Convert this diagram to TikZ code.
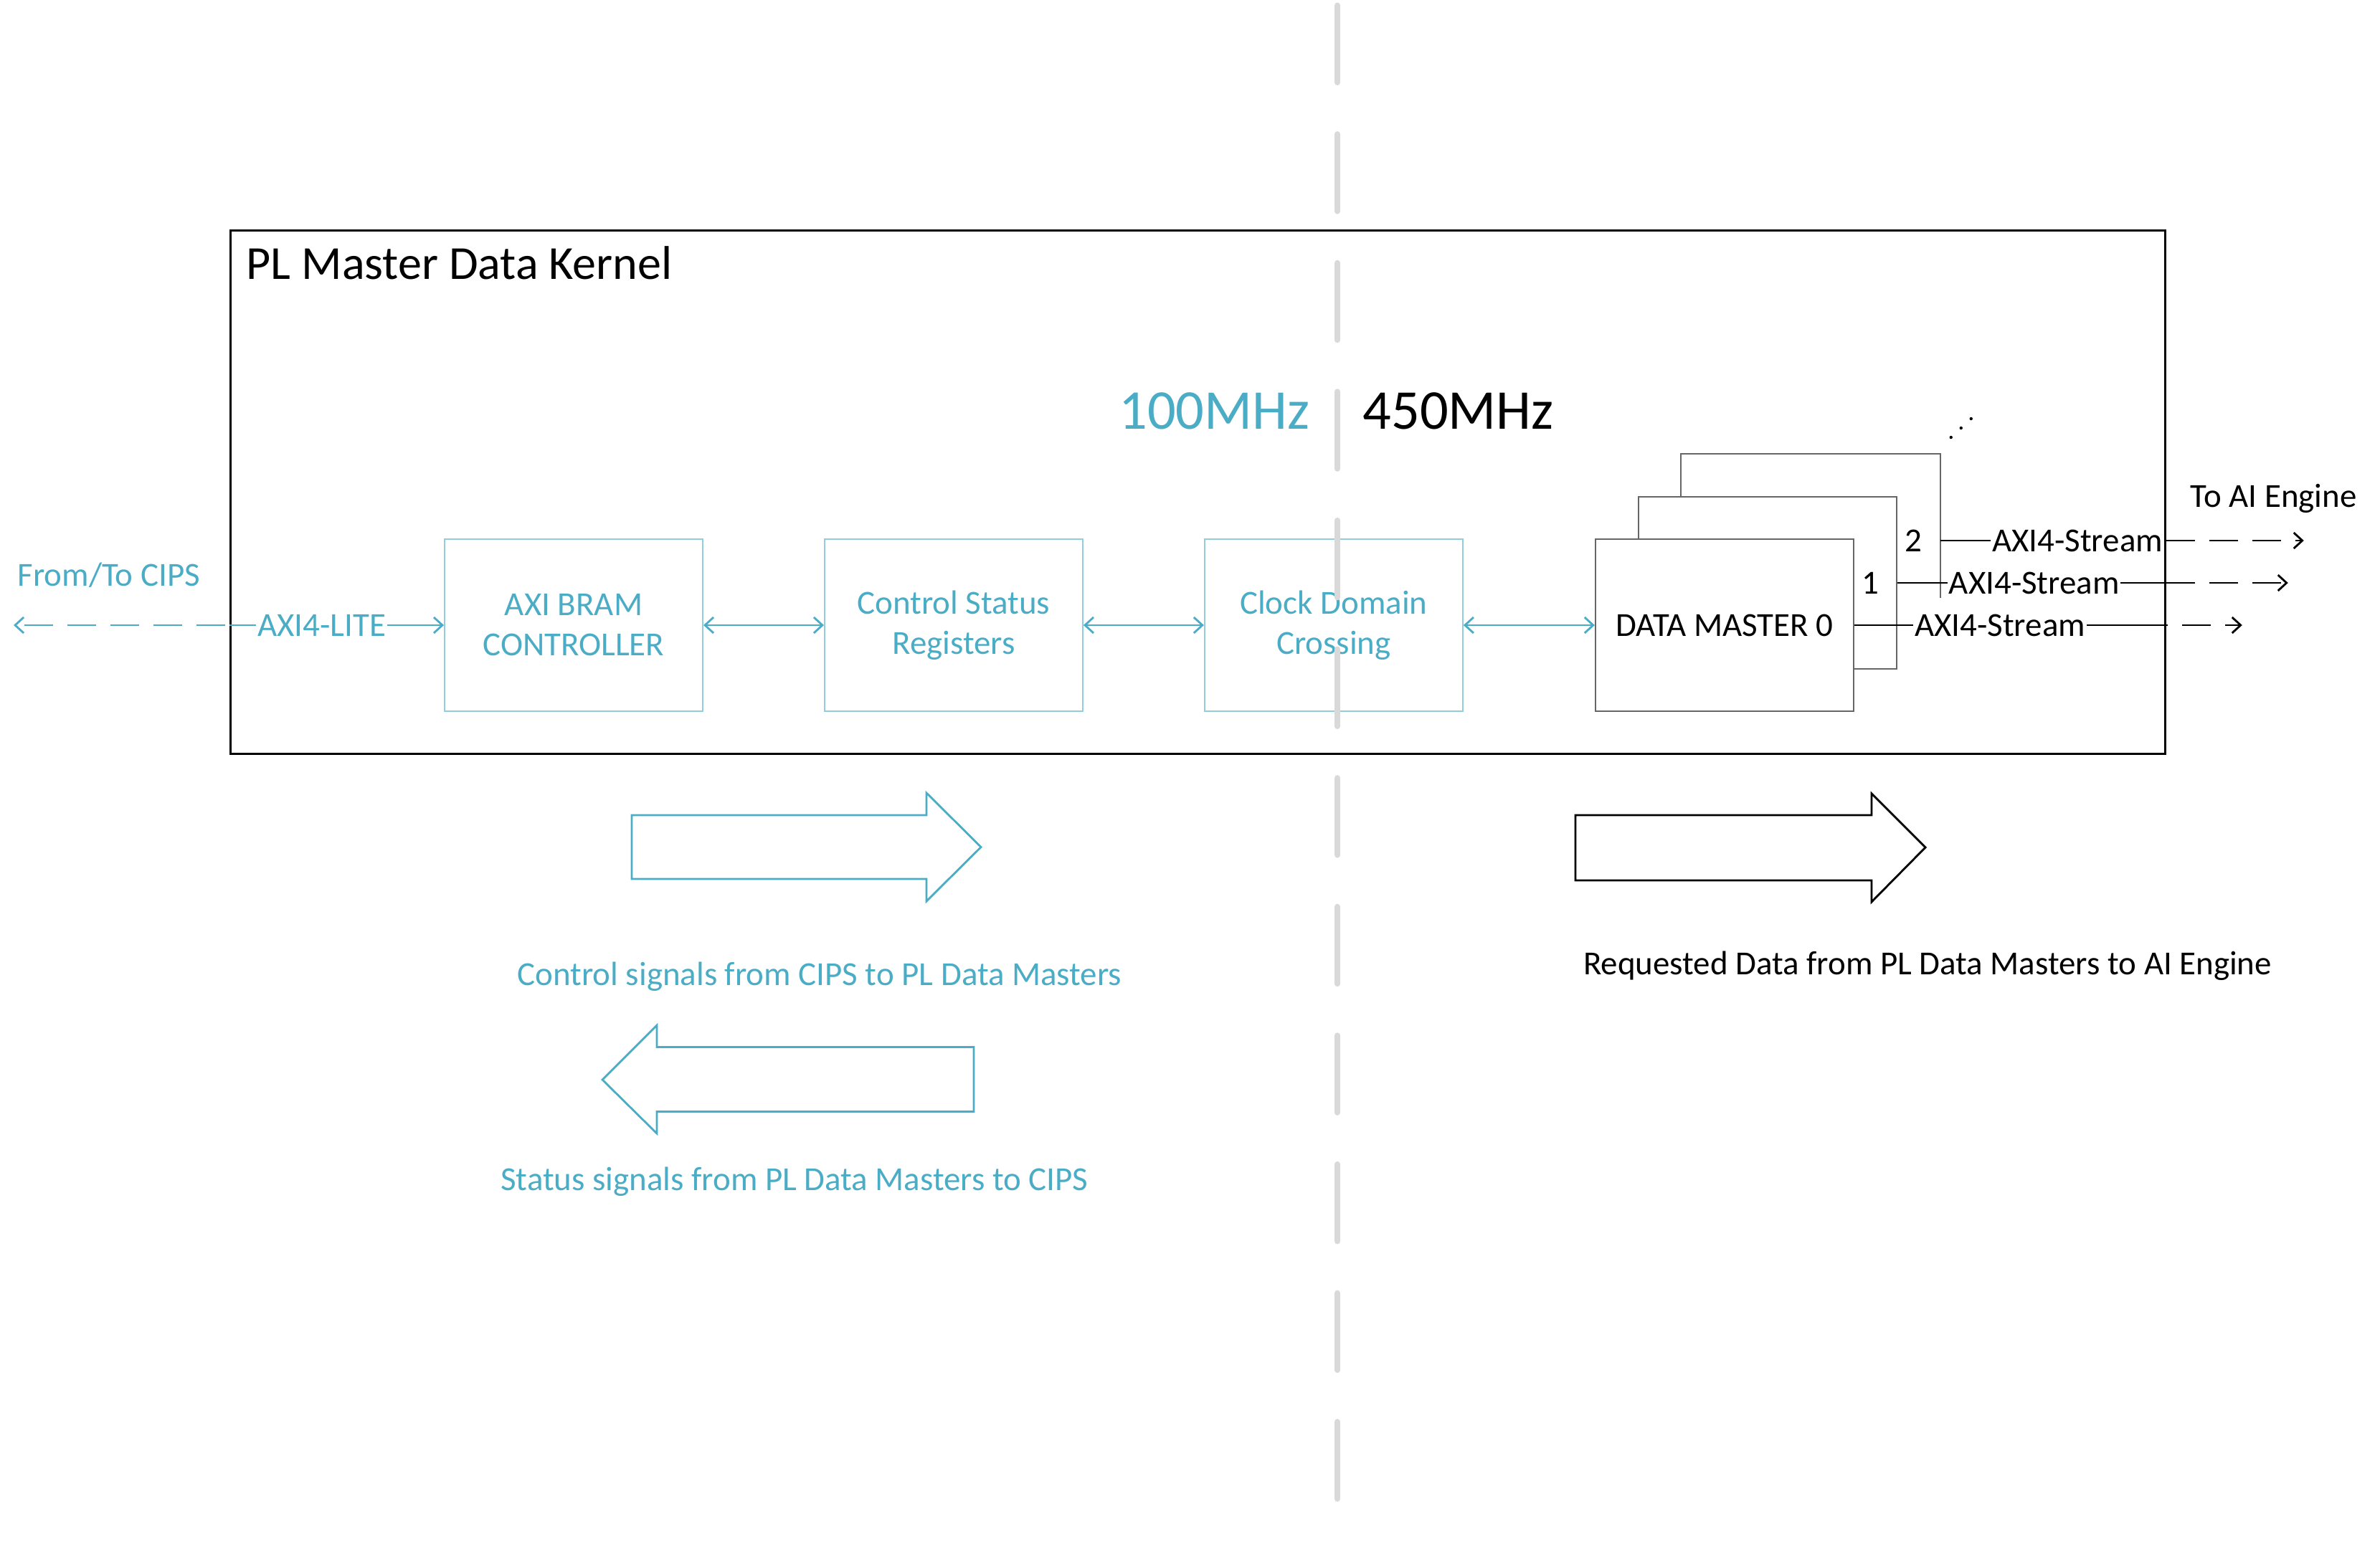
\documentclass[tikz,border=0pt]{standalone}
\usepackage{fontspec}
\setmainfont{Carlito}
\usetikzlibrary{arrows.meta,positioning}
\definecolor{cipsblue}{HTML}{4BACC6}
\definecolor{boxblue}{HTML}{92CDDC}
\definecolor{clkgray}{HTML}{D9D9D9}
\newcommand{\lblfont}{\fontsize{13.35}{15.9}\selectfont}

\tikzset{
  blkbox/.style={draw=boxblue,line width=.55pt,minimum width=3.6cm,minimum height=2.4cm,
    text=cipsblue,align=center,font=\lblfont},
  dmbox/.style={draw=black!60,fill=white,line width=.55pt,minimum width=3.6cm,minimum height=2.4cm,
    align=center,font=\lblfont},
  cipsline/.style={draw=cipsblue,line width=.8pt},
  dmstream/.style={draw=black,line width=.8pt},
  onlabel/.style={fill=white,inner sep=.5pt,font=\lblfont},
  bigarrow/.style={line width=.8pt,line join=miter},
}

\begin{document}
\begin{tikzpicture}[>={Straight Barb[length=0.12cm,width=0.22cm]}]
\useasboundingbox (0,0) rectangle (33.19,-21.62);

\node[draw,line width=.85pt,minimum width=26.98cm,minimum height=7.30cm,anchor=north west] (kernel) at (3.20,-3.20) {};
\node[anchor=base west,inner sep=0,font=\fontsize{18.8}{22}\selectfont] (title) at ([shift={(0.23,-0.69)}]kernel.north west) {PL Master Data Kernel};

\node[anchor=base east,inner sep=0,text=cipsblue,font=\fontsize{22.3}{26}\selectfont] (slow) at (18.27,-5.98) {100MHz};
\node[anchor=base west,inner sep=0,font=\fontsize{22.3}{26}\selectfont] (fast) at (19.00,-5.98) {450MHz};

\node[blkbox] (bram) at (8.00,-8.72) {AXI BRAM\\CONTROLLER};
\node[blkbox,right=1.68cm of bram] (csr) {Control Status\\Registers};
\node[blkbox,right=1.68cm of csr] (cdc) {Clock Domain\\Crossing};

% stacked data masters, back to front
\node[dmbox,right=1.83cm of cdc] (dm0) {};
\node[dmbox,draw=none] (dm2) at ([shift={(1.20,1.18)}]dm0) {};
\draw[black!60,line width=.55pt] ([yshift=-2.01cm]dm2.north east) -- (dm2.north east) -- (dm2.north west) -- (dm2.south west);
\node[dmbox] (dm1) at ([shift={(0.60,0.59)}]dm0) {};
\node[dmbox] (dm0) at (dm0) {DATA MASTER 0};
\node[anchor=east,inner sep=0,font=\lblfont] (n2) at ([xshift=-0.25cm]dm2.east) {2};
\node[anchor=east,inner sep=0,font=\lblfont] (n1) at ([xshift=-0.25cm]dm1.east) {1};

\foreach \d in {0,1,2}
  \fill ([shift={(0.15+0.14*\d,0.23+0.13*\d)}]dm2.north east) circle (0.022);

% CIPS side
\coordinate (cips) at (0.19,-8.72);
\node[anchor=base west,inner sep=0,text=cipsblue,font=\lblfont] (cipslbl) at (0.24,-8.17) {From/To CIPS};
\draw[cipsline,->,dash pattern=on 0.4cm off 0.2cm,dash phase=0.54cm] (kernel.west |- bram.west) -- (cips);
\draw[cipsline,->] (kernel.west |- bram.west) -- (bram.west) node[onlabel,pos=.43,text=cipsblue] {AXI4-LITE};
\draw[cipsline,<->] (bram) -- (csr);
\draw[cipsline,<->] (csr) -- (cdc);
\draw[cipsline,<->] (cdc) -- (dm0);

% AI engine side
\node[anchor=base west,inner sep=0,font=\lblfont] (ailbl) at (30.54,-7.07) {To AI Engine};
\foreach \i/\len/\p/\ph in {0/5.41/.467/0.38, 1/5.45/.509/0, 2/5.07/.607/0}{
  \path (dm\i.east) ++(\len,0) coordinate (ai\i);
  \draw[dmstream] (dm\i.east) -- (kernel.east |- dm\i.east) node[onlabel,pos=\p] {AXI4-Stream};
  \draw[dmstream,->,dash pattern=on 0.4cm off 0.2cm,dash phase=\ph cm] (kernel.east |- dm\i.east) -- (ai\i);
}

% clock boundary
\foreach \i in {0,...,11}
  \draw[clkgray,line width=0.08cm,line cap=round] (18.65,-0.075-1.796*\i) -- ++(0,-1.075);

% direction arrows
\draw[bigarrow,cipsblue] (8.81,-11.37) -- (12.92,-11.37) -- (12.92,-11.06) -- (13.68,-11.815)
  -- (12.92,-12.57) -- (12.92,-12.26) -- (8.81,-12.26) -- cycle;
\node[anchor=base,inner sep=0,text=cipsblue,font=\lblfont] (ctrl) at (11.43,-13.74) {Control signals from CIPS to PL Data Masters};
\draw[bigarrow,cipsblue] (8.40,-15.06) -- (9.16,-14.30) -- (9.16,-14.605) -- (13.58,-14.605)
  -- (13.58,-15.506) -- (9.16,-15.506) -- (9.16,-15.81) -- cycle;
\node[anchor=base,inner sep=0,text=cipsblue,font=\lblfont] (stat) at (11.08,-16.60) {Status signals from PL Data Masters to CIPS};
\draw[bigarrow] (21.97,-11.37) -- (26.10,-11.37) -- (26.10,-11.07) -- (26.85,-11.82)
  -- (26.10,-12.58) -- (26.10,-12.28) -- (21.97,-12.28) -- cycle;
\node[anchor=base,inner sep=0,font=\lblfont] (req) at (26.88,-13.59) {Requested Data from PL Data Masters to AI Engine};
\end{tikzpicture}
\end{document}
